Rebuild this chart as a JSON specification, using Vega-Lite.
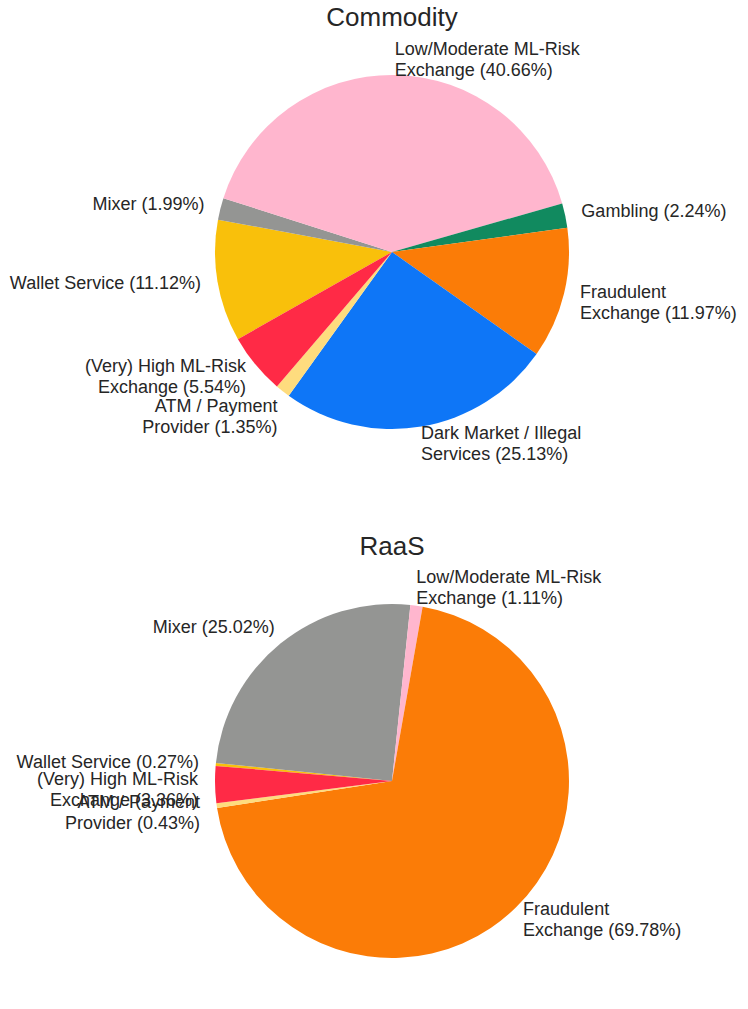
{
  "$schema": "https://vega.github.io/schema/vega-lite/v6.json",
  "padding": {"left": 9, "top": 5, "right": 5, "bottom": 5},
  "background": "white",
  "config": {"view": {"stroke": null}},
  "spacing": 65,
  "datasets": {
    "commodity": [
      {"category": "Wallet Service", "pct": 11.12, "label": "Wallet Service (11.12%)"},
      {"category": "Mixer", "pct": 1.99, "label": "Mixer (1.99%)"},
      {"category": "Low/Moderate ML-Risk Exchange", "pct": 40.66, "label": "Low/Moderate ML-Risk\nExchange (40.66%)"},
      {"category": "Gambling", "pct": 2.24, "label": "Gambling (2.24%)"},
      {"category": "Fraudulent Exchange", "pct": 11.97, "label": "Fraudulent\nExchange (11.97%)"},
      {"category": "Dark Market / Illegal Services", "pct": 25.13, "label": "Dark Market / Illegal\nServices (25.13%)"},
      {"category": "ATM / Payment Provider", "pct": 1.35, "label": "ATM / Payment\nProvider (1.35%)"},
      {"category": "(Very) High ML-Risk Exchange", "pct": 5.54, "label": "(Very) High ML-Risk\nExchange (5.54%)"}
    ],
    "raas": [
      {"category": "Wallet Service", "pct": 0.27, "label": "Wallet Service (0.27%)"},
      {"category": "Mixer", "pct": 25.02, "label": "Mixer (25.02%)"},
      {"category": "Low/Moderate ML-Risk Exchange", "pct": 1.11, "label": "Low/Moderate ML-Risk\nExchange (1.11%)"},
      {"category": "Fraudulent Exchange", "pct": 69.78, "label": "Fraudulent\nExchange (69.78%)"},
      {"category": "ATM / Payment Provider", "pct": 0.43, "label": "ATM / Payment\nProvider (0.43%)"},
      {"category": "(Very) High ML-Risk Exchange", "pct": 3.36, "label": "(Very) High ML-Risk\nExchange (3.36%)"}
    ]
  },
  "vconcat": [
    {
      "width": 692,
      "height": 434,
      "data": {"name": "commodity"},
      "title": {"text": "Commodity", "fontSize": 26, "font": "Liberation Sans", "fontWeight": "normal", "color": "#262626", "anchor": "middle", "frame": "group", "offset": 4},
      "encoding": {
        "theta": {"field": "pct", "type": "quantitative", "stack": true, "scale": {"range": [4.1975, 10.4807]}},
        "order": {"field": "category", "type": "nominal", "sort": "descending"},
        "detail": {"field": "category", "type": "nominal"}
      },
      "layer": [
        {
          "mark": {"type": "arc", "outerRadius": 177},
          "encoding": {
            "color": {
              "field": "category", "type": "nominal", "legend": null,
              "scale": {
                "domain": ["Low/Moderate ML-Risk Exchange", "Gambling", "Fraudulent Exchange", "Dark Market / Illegal Services", "ATM / Payment Provider", "(Very) High ML-Risk Exchange", "Wallet Service", "Mixer"],
                "range": ["#FFB6CE", "#118A5F", "#FB7C07", "#0E76F7", "#FEDC7E", "#FF2A46", "#F9C00B", "#949593"]
              }
            }
          }
        },
        {
          "mark": {
            "type": "text", "font": "Liberation Sans", "fontSize": 18, "lineBreak": "\n", "lineHeight": 21, "color": "#262626",
            "align": {"expr": "sin(4.1975 + 0.0314159*(datum.pct_start + datum.pct_end)) >= 0 ? 'left' : 'right'"},
            "baseline": {"expr": "cos(4.1975 + 0.0314159*(datum.pct_start + datum.pct_end)) > 0.75 ? 'bottom' : (cos(4.1975 + 0.0314159*(datum.pct_start + datum.pct_end)) < -0.75 ? 'top' : 'middle')"},
            "radius": {"expr": "172 + 22*abs(sin(4.1975 + 0.0314159*(datum.pct_start + datum.pct_end)))"},
            "dy": {"expr": "indexof(datum.label, '\\n') < 0 ? 0 : (cos(4.1975 + 0.0314159*(datum.pct_start + datum.pct_end)) > 0.75 ? -21 : (cos(4.1975 + 0.0314159*(datum.pct_start + datum.pct_end)) < -0.75 ? 0 : -5))"}
          },
          "encoding": {
            "text": {"field": "label", "type": "nominal"}
          }
        }
      ]
    },
    {
      "width": 692,
      "height": 434,
      "data": {"name": "raas"},
      "title": {"text": "RaaS", "fontSize": 26, "font": "Liberation Sans", "fontWeight": "normal", "color": "#262626", "anchor": "middle", "frame": "group", "offset": 4},
      "encoding": {
        "theta": {"field": "pct", "type": "quantitative", "stack": true, "scale": {"range": [-1.4853, 4.7979]}},
        "order": {"field": "category", "type": "nominal", "sort": "descending"},
        "detail": {"field": "category", "type": "nominal"}
      },
      "layer": [
        {
          "mark": {"type": "arc", "outerRadius": 177},
          "encoding": {
            "color": {
              "field": "category", "type": "nominal", "legend": null,
              "scale": {
                "domain": ["Low/Moderate ML-Risk Exchange", "Gambling", "Fraudulent Exchange", "Dark Market / Illegal Services", "ATM / Payment Provider", "(Very) High ML-Risk Exchange", "Wallet Service", "Mixer"],
                "range": ["#FFB6CE", "#118A5F", "#FB7C07", "#0E76F7", "#FEDC7E", "#FF2A46", "#F9C00B", "#949593"]
              }
            }
          }
        },
        {
          "mark": {
            "type": "text", "font": "Liberation Sans", "fontSize": 18, "lineBreak": "\n", "lineHeight": 21, "color": "#262626",
            "align": {"expr": "sin(-1.4853 + 0.0314254*(datum.pct_start + datum.pct_end)) >= 0 ? 'left' : 'right'"},
            "baseline": {"expr": "cos(-1.4853 + 0.0314254*(datum.pct_start + datum.pct_end)) > 0.75 ? 'bottom' : (cos(-1.4853 + 0.0314254*(datum.pct_start + datum.pct_end)) < -0.75 ? 'top' : 'middle')"},
            "radius": {"expr": "172 + 22*abs(sin(-1.4853 + 0.0314254*(datum.pct_start + datum.pct_end)))"},
            "dy": {"expr": "indexof(datum.label, '\\n') < 0 ? 0 : (cos(-1.4853 + 0.0314254*(datum.pct_start + datum.pct_end)) > 0.75 ? -21 : (cos(-1.4853 + 0.0314254*(datum.pct_start + datum.pct_end)) < -0.75 ? 0 : -5))"}
          },
          "encoding": {
            "text": {"field": "label", "type": "nominal"}
          }
        }
      ]
    }
  ]
}
